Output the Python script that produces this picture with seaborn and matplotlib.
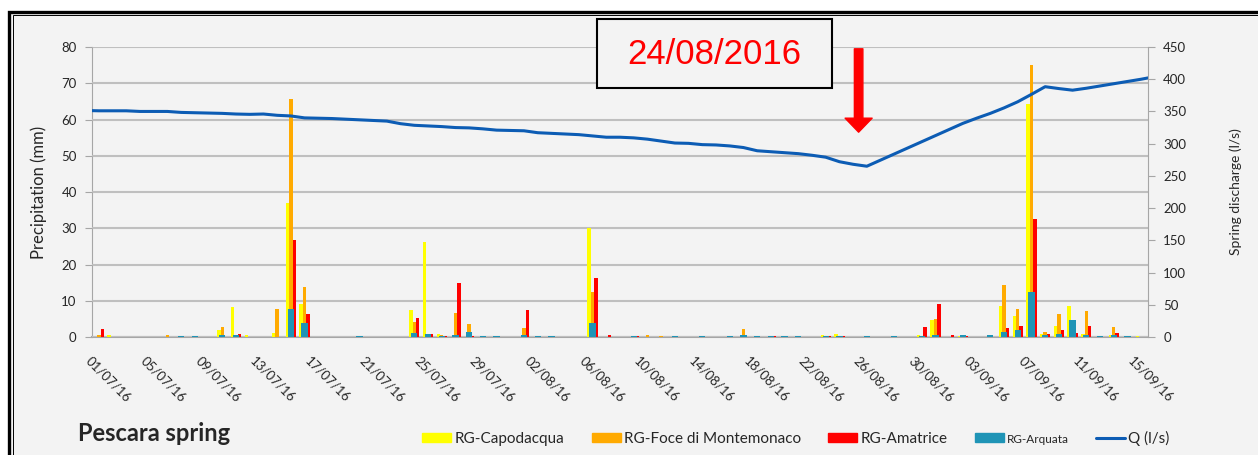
import numpy as np
import pandas as pd
import seaborn as sns
import matplotlib
import matplotlib.pyplot as plt
from matplotlib.patches import Patch, Rectangle
from matplotlib.lines import Line2D

matplotlib.use('Agg')

# daily dates 01/07/16 .. 15/09/16
dates = list(pd.date_range("2016-07-01", "2016-09-15").strftime("%d/%m/%y"))

capodacqua = [0, 0.5, 0, 0, 0, 0, 0, 0, 0, 1.8, 8.2,
              0.5, 0, 1.0, 37, 9.2, 0, 0, 0, 0, 0, 0,
              0, 7.4, 26.3, 0.8, 0, 0, 0, 0, 0, 0, 0,
              0, 0, 0, 30, 0, 0, 0, 0, 0, 0, 0,
              0, 0, 0, 0, 0, 0, 0, 0, 0, 0.5, 0.8,
              0, 0, 0, 0, 0, 0.5, 4.7, 0, 0.4, 0, 0,
              8.6, 5.9, 64.3, 0.7, 3.0, 8.6, 0.8, 0, 0.5, 0, 0.4]
montemonaco = [0.6, 0, 0, 0, 0, 0.5, 0, 0, 0, 2.7, 0,
               0, 0, 7.6, 65.7, 13.9, 0, 0, 0, 0, 0, 0,
               0, 4.2, 0, 0.5, 6.7, 3.6, 0, 0, 0, 2.4, 0,
               0, 0, 0, 12.5, 0, 0, 0, 0.5, 0.4, 0, 0,
               0, 0, 0, 2.1, 0, 0, 0, 0, 0, 0, 0,
               0, 0, 0, 0, 0, 0, 4.9, 0, 0.4, 0, 0,
               14.4, 7.6, 75, 1.4, 6.3, 0, 7.3, 0, 2.7, 0, 0]
amatrice = [2.3, 0, 0, 0, 0, 0, 0, 0, 0, 0, 0.8,
            0, 0, 0, 26.8, 6.3, 0, 0, 0, 0, 0, 0,
            0, 5.3, 0.9, 0.4, 15.0, 0.4, 0, 0, 0, 7.4, 0,
            0, 0, 0, 16.2, 0.5, 0, 0.4, 0, 0, 0, 0,
            0, 0, 0, 0, 0, 0.4, 0, 0, 0, 0.4, 0.4,
            0, 0, 0, 0, 0, 2.7, 9.1, 0.5, 0.4, 0, 0,
            2.4, 3.0, 32.5, 0.9, 1.9, 1.2, 3.0, 0, 1.2, 0, 0]
arquata = [0, 0, 0, 0, 0, 0, 0.4, 0.4, 0, 0.5, 0.5,
           0, 0, 0, 7.7, 3.8, 0, 0, 0, 0.4, 0, 0,
           0, 1.0, 0.8, 0.4, 0.5, 1.4, 0.4, 0.4, 0, 0.5, 0.4,
           0.4, 0, 0, 3.8, 0, 0, 0.4, 0, 0, 0.4, 0,
           0.4, 0, 0.4, 0.5, 0.4, 0.4, 0.4, 0.4, 0, 0.4, 0.4,
           0, 0.4, 0, 0.4, 0, 0.4, 0.6, 0, 0.5, 0, 0.5,
           1.5, 1.9, 12.5, 0.5, 0.8, 4.7, 0.5, 0.4, 0.5, 0.4, 0]

# spring discharge, one value per day from 30/06 to 16/09 (ends clipped)
q_day = list(range(-1, 78))
q_ls = [351.5,
        351, 351, 351, 350, 350, 350, 348.5, 348, 347.5, 347, 346,
        345.5, 346, 344, 343, 340, 339.5, 339, 338, 337, 336, 335,
        331, 328.5, 327.5, 326.5, 325, 324.5, 323, 321, 320.5, 320, 317,
        316, 315, 314, 312, 310, 310, 309, 307, 304, 301, 300.5,
        298.5, 298, 296.5, 294, 289, 287.5, 286, 284.5, 282, 279, 272,
        268, 265, 274.5, 284, 293.5, 303, 312.5, 322, 331.5, 339.5, 347,
        355.5, 365, 376.5, 388.4, 385.5, 383, 386, 389.5, 393, 396.5, 400,
        404]

stations = ["RG-Capodacqua", "RG-Foce di Montemonaco", "RG-Amatrice"]
colors = ["#ffff00", "#ffaa00", "#ff0000"]
teal = "#1f94b6"
blue = "#0c5cb4"
bg = "#f3f3f3"

rain = pd.DataFrame({
    "date": dates * 3,
    "mm": capodacqua + montemonaco + amatrice,
    "station": np.repeat(stations, len(dates)),
})

sns.set_style("white")
plt.rcParams['font.family'] = ['Lato', 'DejaVu Sans']

W, H = 1258, 455
fig = plt.figure(figsize=(W / 100, H / 100), dpi=100)
fig.patch.set_facecolor("white")

# double frame of the original slide
fig.patches.append(Rectangle((9 / W, -0.1), 1.2, 1 - 11.5 / H + 0.1, transform=fig.transFigure,
                             fc=bg, ec="black", lw=2.4, zorder=-3))
fig.patches.append(Rectangle((12.5 / W, -0.1), 1.2, 1 - 15 / H + 0.1, transform=fig.transFigure,
                             fc="none", ec="black", lw=0.7, zorder=-2))

ax = fig.add_axes([92 / W, 1 - 337 / H, (1148 - 92) / W, (337 - 47) / H])
ax.set_facecolor("none")

sns.barplot(data=rain, x="date", y="mm", hue="station", order=dates,
            hue_order=stations, palette=colors, width=0.75, saturation=1,
            linewidth=0, errorbar=None, legend=False, ax=ax)
sns.barplot(x=dates, y=arquata, order=dates, color=teal, width=0.45,
            saturation=1, linewidth=0, errorbar=None, ax=ax)

ax.set_ylim(0, 80)
ax.set_yticks(range(0, 81, 10))
ax.yaxis.grid(True, color="#bfbfbf", lw=1.5)
ax.set_axisbelow(True)
for s in ["top", "right"]:
    ax.spines[s].set_visible(False)
for s in ["left", "bottom"]:
    ax.spines[s].set_color("#a6a6a6")
    ax.spines[s].set_zorder(0.5)
ax.spines["bottom"].set_linewidth(1.5)

tick_idx = list(range(0, len(dates), 4))
ax.set_xticks([i - 0.5 for i in tick_idx])
ax.set_xticklabels([dates[i] for i in tick_idx], rotation=-45, ha="left", va="top",
                   rotation_mode="anchor")
ax.set_xlabel("")
ax.tick_params(axis="x", length=5, color="#a6a6a6", labelsize=9.5, labelcolor="#262626", pad=8)
ax.tick_params(axis="y", length=5, color="#a6a6a6", labelsize=9.5, labelcolor="#262626", pad=6,
               left=True)
ax.set_ylabel("Precipitation (mm)", fontsize=12, color="#262626")
ax.yaxis.set_label_coords(-0.043, 0.5)

# discharge on the right axis
ax2 = ax.twinx()
sns.lineplot(x=q_day, y=q_ls, color=blue, lw=2.2, ax=ax2)
ax2.set_ylim(0, 450)
ax2.set_yticks(range(0, 451, 50))
ax.set_xlim(-0.5, len(dates) - 0.5)
for s in ["top", "left", "bottom"]:
    ax2.spines[s].set_visible(False)
ax2.spines["right"].set_color("#a6a6a6")
ax2.tick_params(axis="y", length=5, color="#a6a6a6", labelsize=9.5, labelcolor="#262626", pad=6,
                right=True)
ax2.set_ylabel("Spring discharge (l/s)", fontsize=10, color="#262626")
ax2.yaxis.set_label_coords(1.077, 0.5)

# 24/08/2016 marker
fig.patches.append(Rectangle((597 / W, 1 - 88 / H), 235 / W, 69 / H, transform=fig.transFigure,
                             fc=bg, ec="black", lw=1.5, zorder=5))
fig.text(714.5 / W, 1 - 54 / H, "24/08/2016", ha="center", va="center", color="red",
         fontsize=25, family=["Liberation Sans", "DejaVu Sans"], zorder=6)
ax.annotate("", xy=(55.4, 56.5), xytext=(55.4, 79.5),
            arrowprops=dict(arrowstyle="simple,head_length=1.4,head_width=2.7,tail_width=0.85",
                            mutation_scale=7.2, color="red", shrinkA=0, shrinkB=0),
            annotation_clip=False)

fig.text(78 / W, 1 - 441 / H, "Pescara spring", fontsize=17, fontweight="bold",
         ha="left", va="baseline")

handles = [Patch(color=c) for c in colors] + [Patch(color=teal), Line2D([], [], color=blue, lw=2.2)]
labels = stations + ["RG-Arquata", "Q (l/s)"]
leg = fig.legend(handles, labels, loc="center", bbox_to_anchor=(796 / W, 1 - 438 / H), ncol=5,
                 frameon=False, fontsize=11, handlelength=1.9, handleheight=0.55,
                 handletextpad=0.2, columnspacing=1.8)
leg.get_texts()[3].set_fontsize(8.5)

fig.savefig("out.png", dpi=100, facecolor=fig.get_facecolor())
